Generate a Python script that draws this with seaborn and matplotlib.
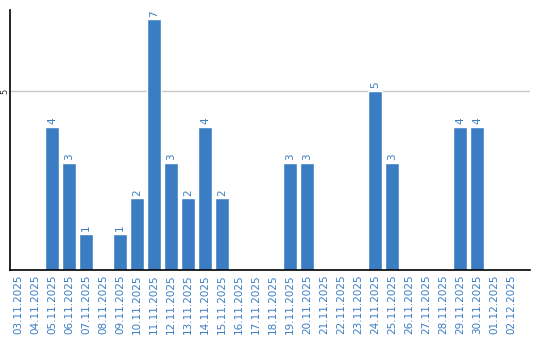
import matplotlib
matplotlib.use("Agg")
import matplotlib.pyplot as plt
import seaborn as sns
import pandas as pd

dates = ["03.11.2025", "04.11.2025", "05.11.2025", "06.11.2025", "07.11.2025",
         "08.11.2025", "09.11.2025", "10.11.2025", "11.11.2025", "12.11.2025",
         "13.11.2025", "14.11.2025", "15.11.2025", "16.11.2025", "17.11.2025",
         "18.11.2025", "19.11.2025", "20.11.2025", "21.11.2025", "22.11.2025",
         "23.11.2025", "24.11.2025", "25.11.2025", "26.11.2025", "27.11.2025",
         "28.11.2025", "29.11.2025", "30.11.2025", "01.12.2025", "02.12.2025"]
values = [0, 0, 4, 3, 1, 0, 1, 2, 7, 3, 2, 4, 2, 0, 0, 0, 3, 3, 0, 0, 0, 5, 3,
          0, 0, 0, 4, 4, 0, 0]

sns.set_style("white")
plt.rcParams['font.family'] = ['DejaVu Sans']

BLUE = "#3b7dc3"
df = pd.DataFrame({"date": dates, "value": values})

fig = plt.figure(figsize=(5.4, 3.4), dpi=100)
ax = fig.add_axes([10/540, 70/340, 520/540, 260/340])
sns.barplot(data=df, x="date", y="value", color=BLUE, width=0.82,
            saturation=1, ax=ax)

ax.set_xlim(-0.47, 30.12)
ax.set_ylim(0, 7.26)
ax.set_yticks([5])
ax.set_yticklabels(["5"], rotation=90, va="center", fontsize=6)
ax.yaxis.grid(True, color="#c8c8c8", linewidth=1)
ax.set_axisbelow(True)
ax.tick_params(axis="x", length=0, pad=3)
ax.tick_params(axis="y", length=0, pad=0.5)
ax.tick_params(axis="x", labelrotation=90, labelcolor=BLUE, labelsize=7.5)
ax.set_xlabel("")
ax.set_ylabel("")

for s in ["top", "right"]:
    ax.spines[s].set_visible(False)
for s in ["left", "bottom"]:
    ax.spines[s].set_color("black")
    ax.spines[s].set_linewidth(1.2)

labels = [str(v) if v > 0 else "" for v in values]
ax.bar_label(ax.containers[0], labels=labels, rotation=90, color=BLUE,
             fontsize=7.5, padding=2)

fig.savefig("out.png", dpi=100)
